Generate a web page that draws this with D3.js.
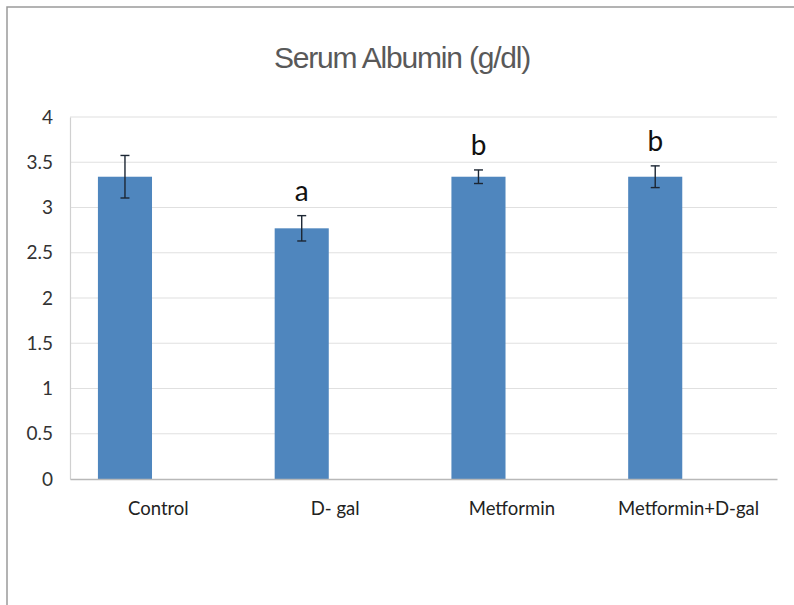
<!DOCTYPE html>
<html>
<head>
<meta charset="utf-8">
<script src="https://cdn.jsdelivr.net/npm/d3@7"></script>
<style>
  body { margin: 0; background: #fff; }
  svg { display: block; }
</style>
</head>
<body>
<div id="chart"></div>
<script>
// data
var groups = ["Control", "D- gal", "Metformin", "Metformin+D-gal"];
var albumin = [3.34, 2.77, 3.34, 3.34];
var albuminErr = [0.235, 0.14, 0.075, 0.12];
var sigLetters = ["", "a", "b", "b"];
var yTicks = [0, 0.5, 1, 1.5, 2, 2.5, 3, 3.5, 4];

var W = 794, H = 605;
var margin = { top: 117, right: 17, bottom: 126, left: 70 },
    width = W - margin.left - margin.right,
    height = H - margin.top - margin.bottom;

var svg = d3.select("#chart").append("svg")
    .attr("width", W)
    .attr("height", H);

svg.append("rect").attr("width", W).attr("height", H).attr("fill", "#fff");

// frame (only top and left edges show in the picture)
svg.append("path")
    .attr("d", "M7," + H + "V7H" + W)
    .attr("fill", "none")
    .attr("stroke", "#9a9a9a")
    .attr("stroke-width", 1.5);

// title
svg.append("text")
    .attr("x", 402)
    .attr("y", 68)
    .attr("text-anchor", "middle")
    .attr("font-family", "Liberation Sans, Arial, sans-serif")
    .attr("font-size", 30)
    .attr("letter-spacing", -1.2)
    .attr("fill", "#595959")
    .text("Serum Albumin (g/dl)");

var g = svg.append("g")
    .attr("transform", "translate(" + margin.left + "," + margin.top + ")");

var x = d3.scaleBand().domain(groups).range([0, width]).padding(0);
var y = d3.scaleLinear().domain([0, 4]).range([height, 0]);

// Excel-style: bar sits left of the category centre
var barOff = 0.158, barFrac = 0.306;
var bw = x.bandwidth() * barFrac;
function barX(d) { return x(d) + x.bandwidth() * barOff; }

// gridlines
g.append("g")
    .selectAll("line")
    .data(yTicks.slice(1))
    .enter().append("line")
    .attr("x1", 0).attr("x2", width)
    .attr("y1", function (d) { return y(d); })
    .attr("y2", function (d) { return y(d); })
    .attr("stroke", "#e0e0e0")
    .attr("stroke-width", 1.2);

// y axis
var yAxis = g.append("g")
    .call(d3.axisLeft(y).tickValues(yTicks).tickSize(0).tickPadding(17).tickFormat(d3.format("")));
yAxis.select(".domain").attr("stroke", "#d0d0d0").attr("stroke-width", 1.2);
yAxis.selectAll("text")
    .attr("font-family", "Lato, sans-serif")
    .attr("font-size", 19)
    .attr("fill", "#333");

// bars
g.append("g")
    .selectAll("rect")
    .data(groups)
    .enter().append("rect")
    .attr("x", function (d) { return barX(d); })
    .attr("width", bw)
    .attr("y", function (d, i) { return y(albumin[i]); })
    .attr("height", function (d, i) { return height - y(albumin[i]); })
    .attr("fill", "#4f86be");

// x axis
var xAxis = g.append("g")
    .attr("transform", "translate(0," + height + ")")
    .call(d3.axisBottom(x).tickSize(0).tickPadding(23));
xAxis.select(".domain").attr("stroke", "#b8b8b8").attr("stroke-width", 1.5);
xAxis.selectAll("text")
    .attr("font-family", "Lato, sans-serif")
    .attr("font-size", 18.5)
    .attr("fill", "#222");

// error bars
var eb = g.append("g").attr("stroke", "#1c2633").attr("stroke-width", 1.4);
groups.forEach(function (d, i) {
    var cx = barX(d) + bw / 2;
    var top = y(albumin[i] + albuminErr[i]), bot = y(albumin[i] - albuminErr[i]);
    eb.append("line").attr("x1", cx).attr("x2", cx).attr("y1", top).attr("y2", bot);
    eb.append("line").attr("x1", cx - 4.5).attr("x2", cx + 4.5).attr("y1", top).attr("y2", top);
    eb.append("line").attr("x1", cx - 4.5).attr("x2", cx + 4.5).attr("y1", bot).attr("y2", bot);
});

// significance letters
g.append("g")
    .selectAll("text")
    .data(groups)
    .enter().append("text")
    .attr("x", function (d) { return barX(d) + bw / 2; })
    .attr("y", function (d, i) { return y(albumin[i] + albuminErr[i]) - 15; })
    .attr("text-anchor", "middle")
    .attr("font-family", "Lato, sans-serif")
    .attr("font-size", 28)
    .attr("fill", "#111")
    .text(function (d, i) { return sigLetters[i]; });
</script>
</body>
</html>
